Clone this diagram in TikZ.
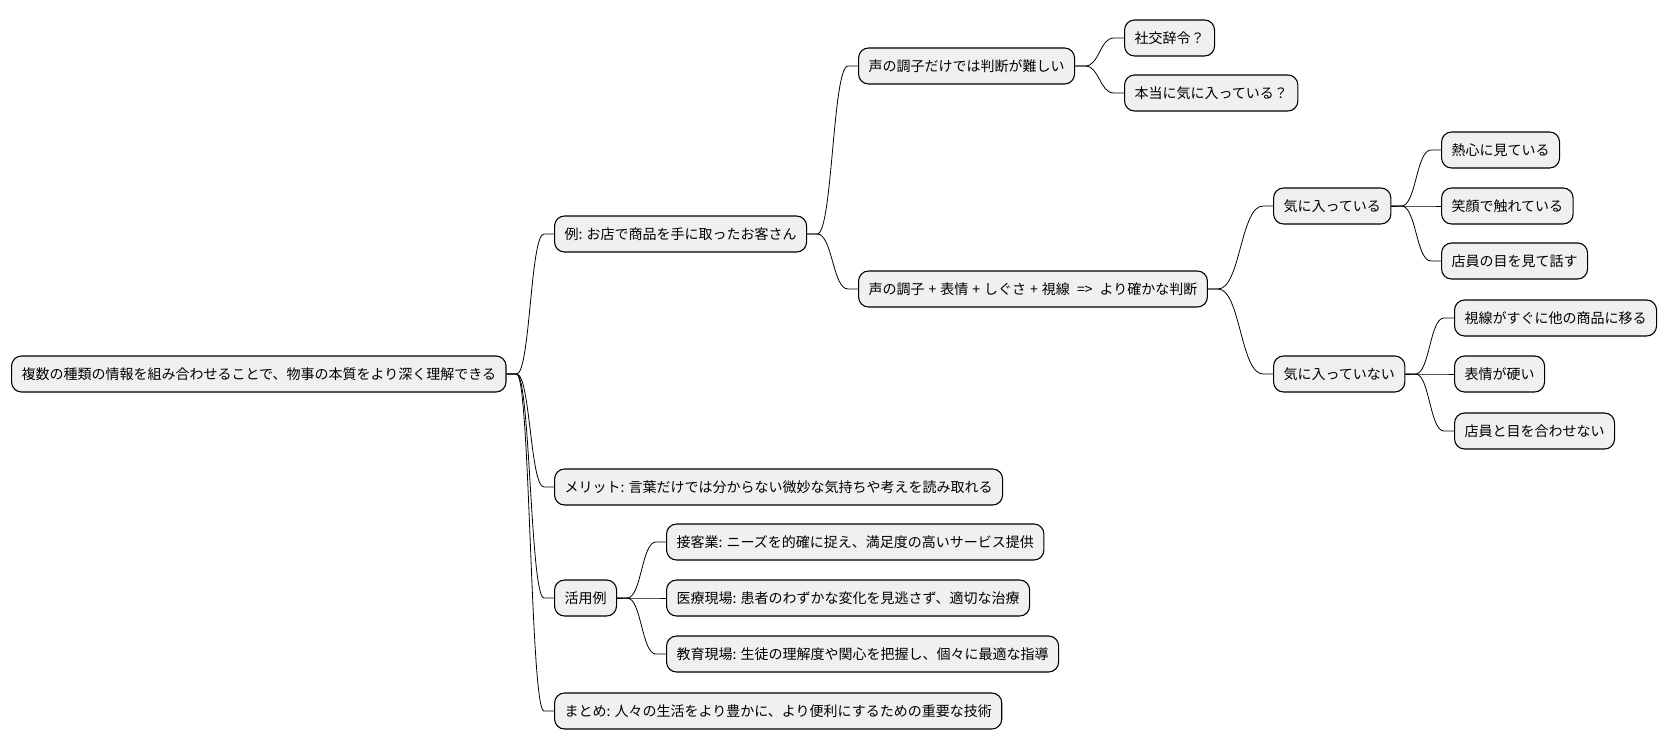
\documentclass[tikz,border=0pt]{standalone}
\usepackage{fontspec}
\setmainfont{Noto Sans CJK JP}
\usetikzlibrary{calc}
\newcommand{\pl}{\hspace{4pt}+\hspace{4pt}}
\begin{document}
\begin{tikzpicture}[x=1pt,y=-1pt,
 box/.style={draw=black,line width=1.1pt,fill=black!6,rounded corners=10pt,anchor=west,minimum height=36pt,inner xsep=10pt,font=\fontsize{14}{16}\selectfont},
 ln/.style={line width=0.8pt}]
\useasboundingbox (0,0) rectangle (1670,752);
\node[box] (r) at (11,374) {複数の種類の情報を組み合わせることで、物事の本質をより深く理解できる};
\node[box] (a) at (554,234) {例: お店で商品を手に取ったお客さん};
\node[box] (b) at (554,487) {メリット: 言葉だけでは分からない微妙な気持ちや考えを読み取れる};
\node[box] (c) at (554,598) {活用例};
\node[box] (d) at (554,711) {まとめ: 人々の生活をより豊かに、より便利にするための重要な技術};
\node[box] (a1) at (858,66) {声の調子だけでは判断が難しい};
\node[box] (a2) at (858,289) {声の調子\pl 表情\pl しぐさ\pl 視線\hspace{4pt} => \hspace{4pt}より確かな判断};
\node[box] (a11) at (1124,38) {社交辞令？};
\node[box] (a12) at (1124,93) {本当に気に入っている？};
\node[box] (p) at (1273,206) {気に入っている};
\node[box] (n) at (1273,374) {気に入っていない};
\node[box] (p1) at (1441,150) {熱心に見ている};
\node[box] (p2) at (1441,206) {笑顔で触れている};
\node[box] (p3) at (1441,261) {店員の目を見て話す};
\node[box] (n1) at (1454,318) {視線がすぐに他の商品に移る};
\node[box] (n2) at (1454,374) {表情が硬い};
\node[box] (n3) at (1454,431) {店員と目を合わせない};
\node[box] (c1) at (666,542) {接客業: ニーズを的確に捉え、満足度の高いサービス提供};
\node[box] (c2) at (666,598) {医療現場: 患者のわずかな変化を見逃さず、適切な治療};
\node[box] (c3) at (666,654) {教育現場: 生徒の理解度や関心を把握し、個々に最適な指導};
\foreach \s/\t in {r/a,r/b,r/c,r/d,a/a1,a/a2,a1/a11,a1/a12,a2/p,a2/n,p/p1,p/p2,p/p3,n/n1,n/n2,n/n3,c/c1,c/c2,c/c3}{
 \draw[ln] let \p1=($(\s.east)+(10,0)$), \p2=($(\t.west)+(-10,0)$), \p3=($(\p1)!0.5!(\p2)$) in
   (\s.east) -- (\p1) .. controls (\x3,\y1) and (\x3,\y2) .. (\p2) -- (\t.west);
}
\end{tikzpicture}
\end{document}
